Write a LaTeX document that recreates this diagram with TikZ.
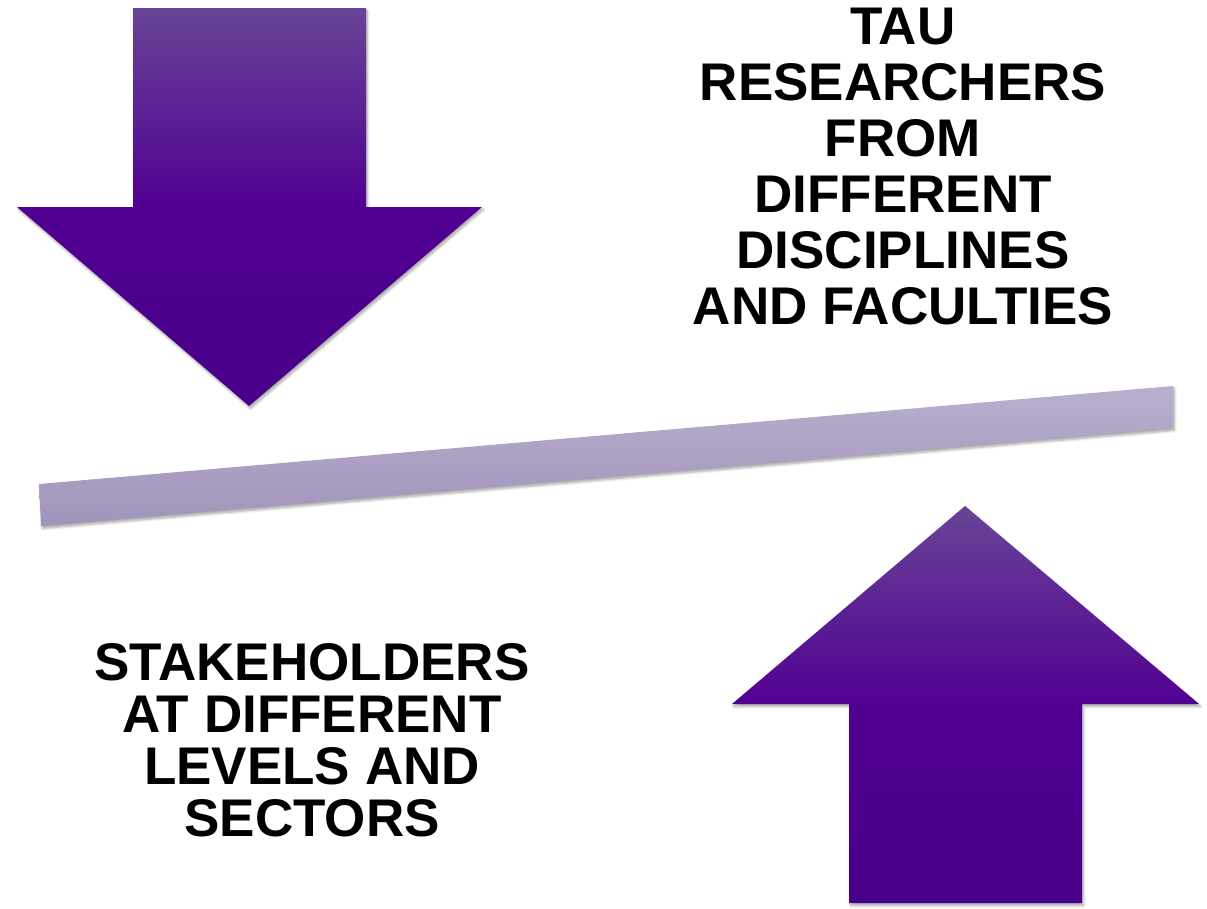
\documentclass[tikz,border=0pt]{standalone}
\usepackage{fontspec}
\setmainfont{Liberation Sans}
\usetikzlibrary{shadows.blur}
\definecolor{arrowlight}{RGB}{104,68,150}
\definecolor{arrowmid}{RGB}{81,0,146}
\definecolor{arrowdark}{RGB}{73,0,137}
\definecolor{barlight}{RGB}{185,175,205}
\definecolor{bardark}{RGB}{160,148,186}
\pgfdeclareverticalshading{arrowdownshade}{100bp}{color(0bp)=(arrowdark); color(25bp)=(arrowdark); color(50bp)=(arrowmid); color(75bp)=(arrowlight); color(100bp)=(arrowlight)}
\pgfdeclareverticalshading{arrowupshade}{100bp}{color(0bp)=(arrowdark); color(25bp)=(arrowdark); color(50bp)=(arrowmid); color(75bp)=(arrowlight); color(100bp)=(arrowlight)}
\tikzset{
  softshadow/.style={blur shadow={shadow xshift=1.5pt, shadow yshift=-2.5pt, shadow blur radius=2.5pt, shadow blur steps=6, shadow opacity=35}},
  bigarrow/.style={softshadow},
  label/.style={inner sep=0pt, align=center, font=\fontsize{53}{56}\selectfont\bfseries, text=black},
}
\begin{document}
\begin{tikzpicture}[x=1pt,y=-1pt]
\useasboundingbox (0,0) rectangle (1207,908);
% top arrow (down)
\path[bigarrow, shading=arrowdownshade]
  (133,8) -- (366,8) -- (366,207) -- (482,207) -- (249,406) -- (17,207) -- (133,207) -- cycle;
% bar
\path[softshadow, top color=barlight, bottom color=bardark]
  (39,484) -- (1173,386) -- (1173,428) -- (41,526) -- cycle;
% bottom arrow (up)
\path[bigarrow, shading=arrowupshade]
  (965,506) -- (1199,704) -- (1082,704) -- (1082,903) -- (849,903) -- (849,704) -- (732,704) -- cycle;
% texts
\node[label] (tau) at (903,166.5) {TAU\\RESEARCHERS\\FROM\\DIFFERENT\\DISCIPLINES\\AND FACULTIES};
\node[label, font=\fontsize{53}{52}\selectfont\bfseries] (stake) at (312,740.5) {STAKEHOLDERS\\AT DIFFERENT\\LEVELS AND\\SECTORS};
\end{tikzpicture}
\end{document}
